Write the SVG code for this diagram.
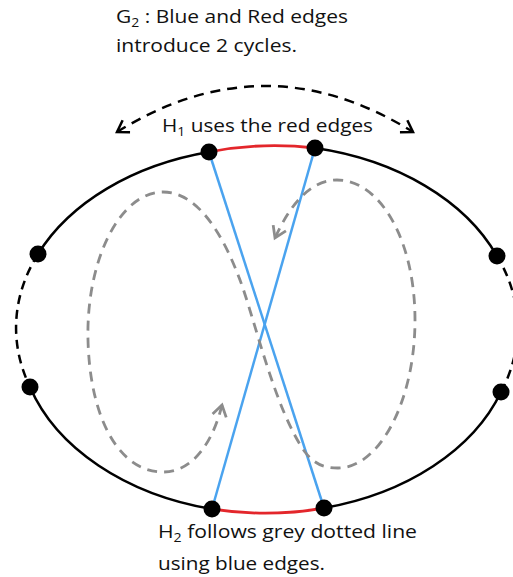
<svg xmlns="http://www.w3.org/2000/svg" width="513" height="577" viewBox="0 0 513 577">
<style>
.lbl{font-family:"Open Sans","Liberation Sans",sans-serif;font-size:18px;fill:#111}
.sub{font-size:12px}
.solid{fill:none;stroke:#000;stroke-width:2.5}
.dash{fill:none;stroke:#000;stroke-width:2.5;stroke-dasharray:9 6}
.red{fill:none;stroke:#e3262b;stroke-width:2.8}
.blue{fill:none;stroke:#4aa3ef;stroke-width:2.5}
.grey{fill:none;stroke:#8c8c8c;stroke-width:2.8;stroke-dasharray:10 7}
.top{fill:none;stroke:#000;stroke-width:2.5;stroke-dasharray:10 7}
.node{fill:#000}
</style>
<defs>
<marker id="ag" markerUnits="userSpaceOnUse" markerWidth="20" markerHeight="20" refX="0" refY="0" viewBox="-14 -10 18 20" orient="auto-start-reverse">
<path d="M-11,-7 L0,0 L-11,7" fill="none" stroke="#8c8c8c" stroke-width="2.8" stroke-dasharray="none"/>
</marker>
<marker id="ab" markerUnits="userSpaceOnUse" markerWidth="20" markerHeight="20" refX="0" refY="0" viewBox="-14 -10 18 20" orient="auto-start-reverse">
<path d="M-11,-7 L0,0 L-11,7" fill="none" stroke="#000" stroke-width="2.5" stroke-dasharray="none"/>
</marker>
</defs>
<g id="connectors">
<path class="solid" d="M209,152 A250,180 0 0 0 38,254"/>
<path class="dash" d="M38,254 A250,180 0 0 0 30,387"/>
<path class="solid" d="M30,387 A250,180 0 0 0 212,509"/>
<path class="red" d="M212,509 A250,180 0 0 0 324,508"/>
<path class="solid" d="M324,508 A250,180 0 0 0 501,392"/>
<path class="dash" d="M501,392 A250,180 0 0 0 497,256"/>
<path class="solid" d="M497,256 A250,180 0 0 0 315,148"/>
<path class="red" d="M315,148 A250,180 0 0 0 209,152"/>
<line class="blue" x1="209" y1="152" x2="324" y2="508"/>
<line class="blue" x1="315" y1="148" x2="212" y2="509"/>
<path class="grey" marker-start="url(#ag)" marker-end="url(#ag)" d="M222,405 C214,438 195,472 163,472 C120,472 90,420 88,340 C86,260 120,192 163,192 C200,192 225,240 240,280 C255,320 275,410 305,452 C315,465 325,468 338,468 C380,468 415,400 415,320 C415,240 380,180 337,180 C310,180 290,205 275,238"/>
<path class="top" marker-start="url(#ab)" marker-end="url(#ab)" d="M117,132 Q265,40 413,132"/>
</g>
<g id="nodes">
<g id="n1"><circle class="node" cx="209" cy="152" r="8.5"/></g>
<g id="n2"><circle class="node" cx="315" cy="148" r="8.5"/></g>
<g id="n3"><circle class="node" cx="38" cy="254" r="8.5"/></g>
<g id="n4"><circle class="node" cx="30" cy="387" r="8.5"/></g>
<g id="n5"><circle class="node" cx="497" cy="256" r="8.5"/></g>
<g id="n6"><circle class="node" cx="501" cy="392" r="8.5"/></g>
<g id="n7"><circle class="node" cx="212" cy="509" r="8.5"/></g>
<g id="n8"><circle class="node" cx="324" cy="508" r="8.5"/></g>
</g>
<g id="labels">
<text class="lbl" x="116" y="23" textLength="232" lengthAdjust="spacingAndGlyphs">G<tspan class="sub" dy="4">2</tspan><tspan dy="-4"> : Blue and Red edges</tspan></text>
<text class="lbl" x="116" y="52" textLength="181" lengthAdjust="spacingAndGlyphs">introduce 2 cycles.</text>
<text class="lbl" x="162" y="132" textLength="211" lengthAdjust="spacingAndGlyphs">H<tspan class="sub" dy="4">1</tspan><tspan dy="-4"> uses the red edges</tspan></text>
<text class="lbl" x="158" y="538" textLength="259" lengthAdjust="spacingAndGlyphs">H<tspan class="sub" dy="4">2</tspan><tspan dy="-4"> follows grey dotted line</tspan></text>
<text class="lbl" x="158" y="570" textLength="167" lengthAdjust="spacingAndGlyphs">using blue edges.</text>
</g>
</svg>
